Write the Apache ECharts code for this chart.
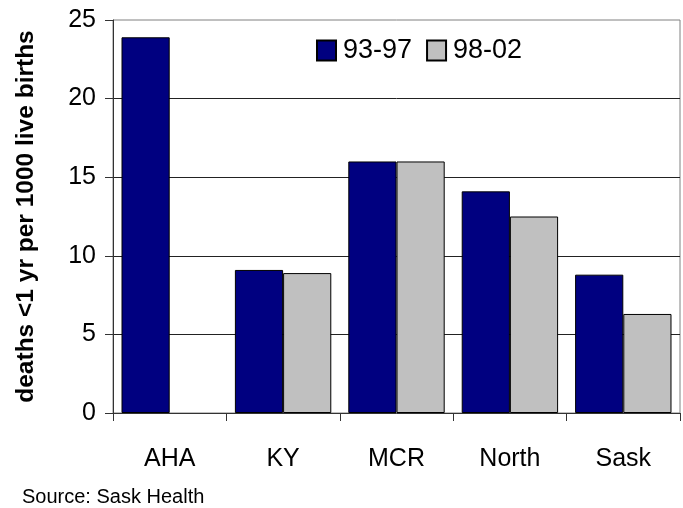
<!DOCTYPE html>
<html>
<head>
<meta charset="utf-8">
<style>
  html, body { margin: 0; padding: 0; background: #fff; }
  #chart { width: 683px; height: 508px; }
</style>
<script src="https://cdn.jsdelivr.net/npm/echarts@6/dist/echarts.min.js"></script>
</head>
<body>
<div id="chart"></div>
<script>
// Infant mortality by region, two five-year periods
const categories = ['AHA', 'KY', 'MCR', 'North', 'Sask'];
const period1Name = '93-97';
const period2Name = '98-02';
const period1 = [23.9, 9.1, 16.0, 14.1, 8.8];
const period2 = [null, 8.9, 16.0, 12.5, 6.3];
const yTicks = [0, 5, 10, 15, 20, 25];

const FONT = '"Liberation Sans", Arial, sans-serif';

const chart = echarts.init(document.getElementById('chart'), null, { renderer: 'canvas' });

chart.setOption({
  animation: false,
  backgroundColor: '#ffffff',
  textStyle: { fontFamily: FONT, color: '#000' },
  title: {
    text: 'Source: Sask Health',
    left: 22,
    top: 487,
    padding: 0,
    textStyle: { fontFamily: FONT, fontSize: 20, fontWeight: 'normal', color: '#000' }
  },
  legend: {
    data: [period1Name, period2Name],
    left: 311,
    top: 32,
    itemWidth: 19,
    itemHeight: 20,
    itemGap: 14,
    icon: 'rect',
    textStyle: { fontFamily: FONT, fontSize: 27, color: '#000', padding: [0, 0, 0, 2] }
  },
  grid: {
    left: 113,
    top: 20,
    right: 3,
    bottom: 95,
    show: true,
    borderColor: '#808080',
    borderWidth: 1,
    backgroundColor: 'transparent'
  },
  xAxis: {
    type: 'category',
    data: categories,
    boundaryGap: true,
    axisLine: { lineStyle: { color: '#333', width: 1 } },
    axisTick: { show: true, length: 8, inside: false, lineStyle: { color: '#333' } },
    axisLabel: { fontFamily: FONT, fontSize: 25, color: '#000', margin: 34 },
    splitLine: { show: false }
  },
  yAxis: {
    type: 'value',
    min: yTicks[0],
    max: yTicks[yTicks.length - 1],
    interval: yTicks[1] - yTicks[0],
    name: 'deaths <1 yr per 1000 live births',
    nameLocation: 'middle',
    nameGap: 74,
    nameRotate: 90,
    nameTextStyle: { fontFamily: FONT, fontSize: 24.5, fontWeight: 'bold', color: '#000' },
    axisLine: { show: true, lineStyle: { color: '#333', width: 1 } },
    axisTick: { show: true, length: 8, lineStyle: { color: '#333' } },
    axisLabel: { fontFamily: FONT, fontSize: 25, color: '#000', margin: 17, padding: [4, 0, 0, 0] },
    splitLine: { show: true, showMinLine: false, showMaxLine: false, lineStyle: { color: '#222', width: 1 } }
  },
  series: [
    {
      name: period1Name,
      type: 'bar',
      data: period1,
      barGap: '0%',
      barCategoryGap: '15%',
      itemStyle: { color: '#000080', borderColor: '#000', borderWidth: 1 }
    },
    {
      name: period2Name,
      type: 'bar',
      data: period2,
      barGap: '0%',
      barCategoryGap: '15%',
      itemStyle: { color: '#C0C0C0', borderColor: '#000', borderWidth: 1 }
    }
  ]
});
</script>
</body>
</html>
